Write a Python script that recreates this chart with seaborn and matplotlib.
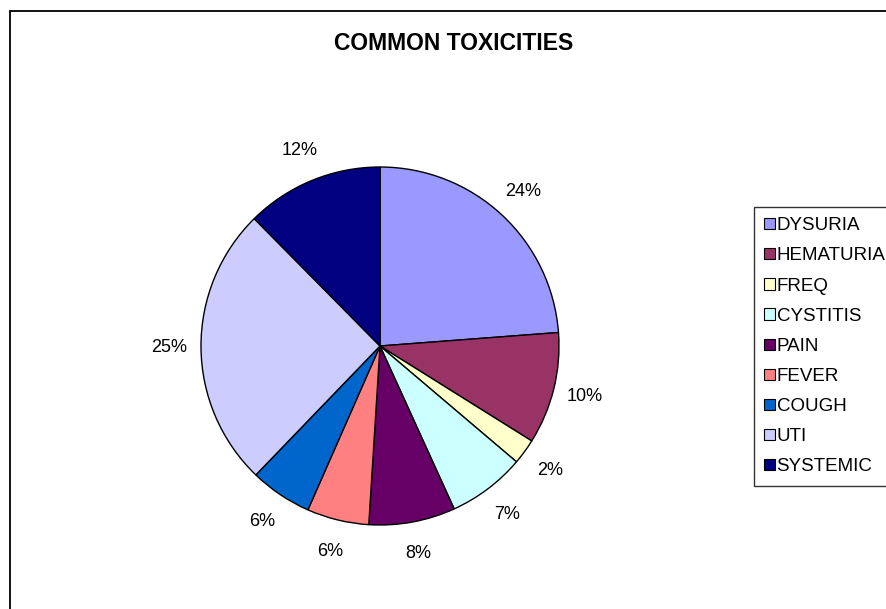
import matplotlib
matplotlib.use('Agg')
import matplotlib.pyplot as plt
import seaborn as sns
from matplotlib.patches import Rectangle

# Data
categories = ['DYSURIA', 'HEMATURIA', 'FREQ', 'CYSTITIS', 'PAIN', 'FEVER', 'COUGH', 'UTI', 'SYSTEMIC']
shares = [23.8, 10.1, 2.3, 7.0, 7.8, 5.6, 5.6, 25.4, 12.4]
colors = ['#9999FF', '#993366', '#FFFFCC', '#CCFFFF', '#660066', '#FF8080', '#0066CC', '#CCCCFF', '#000080']

sns.set_theme(style='white')
plt.rcParams['font.family'] = ['Liberation Sans', 'DejaVu Sans']
plt.rcParams['text.color'] = 'black'

W, H = 886, 609
fig = plt.figure(figsize=(W / 100, H / 100), dpi=100)
fig.patch.set_facecolor('white')

# chart frame (left and top edges visible, rest runs off the image)
fig.patches.append(Rectangle((10 / W, -0.1), 1.2, 1 - 11 / H + 0.1,
                             transform=fig.transFigure, fill=False,
                             edgecolor='black', linewidth=1.3))

cx, cy, r = 380, 346, 179
ax = fig.add_axes([(cx - r) / W, (H - cy - r) / H, 2 * r / W, 2 * r / H])
wedges, texts, autotexts = ax.pie(
    shares, colors=colors, startangle=90, counterclock=False,
    autopct='%.0f%%', pctdistance=1.18,
    wedgeprops=dict(edgecolor='black', linewidth=1.0),
    textprops=dict(fontsize=13, color='black'))
ax.set_aspect('equal')
ax.set_xlim(-1, 1)
ax.set_ylim(-1, 1)
ax.axis('off')

fig.text(454 / W, 1 - 44 / H, 'COMMON TOXICITIES', ha='center', va='center',
         fontsize=16.5, fontweight='bold', color='black')

leg = fig.legend(wedges, categories, loc='upper left',
                 bbox_to_anchor=(754 / W, 1 - 207 / H),
                 fontsize=13.5, frameon=True, fancybox=False,
                 handlelength=0.55, handleheight=0.55, handletextpad=0.1,
                 labelspacing=0.70, borderpad=0.55, borderaxespad=0)
leg.get_frame().set_edgecolor('black')
leg.get_frame().set_linewidth(1.0)
for h in leg.legend_handles:
    h.set_linewidth(0.8)

fig.savefig('out.png', dpi=100)
